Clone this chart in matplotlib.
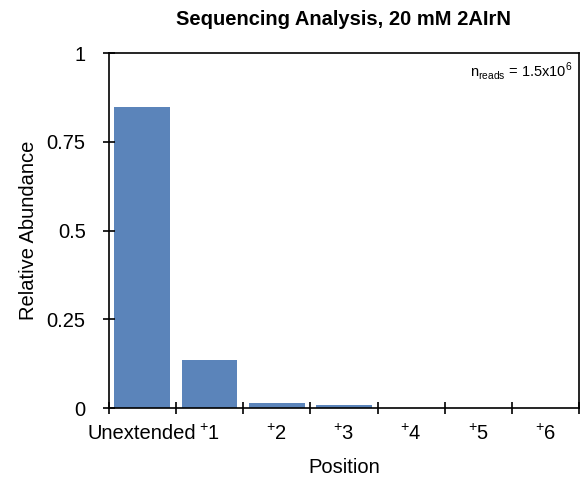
import matplotlib
matplotlib.use('Agg')
import matplotlib.pyplot as plt
import numpy as np

plt.rcParams['font.family'] = ['Liberation Sans', 'DejaVu Sans']
plt.rcParams['mathtext.fontset'] = 'custom'
plt.rcParams['mathtext.rm'] = 'Liberation Sans'

positions = ["Unextended", "$^{+}$1", "$^{+}$2", "$^{+}$3", "$^{+}$4", "$^{+}$5", "$^{+}$6"]
abundance = [0.847, 0.136, 0.014, 0.008, 0.0, 0.0, 0.0]
y_ticks = [0, 0.25, 0.5, 0.75, 1]
y_tick_labels = ["0", "0.25", "0.5", "0.75", "1"]

fs = 14.5

fig = plt.figure(figsize=(5.84, 4.82), dpi=100)
ax = fig.add_axes([0.186, 0.153, 0.806, 0.737])

x = np.arange(len(positions))
ax.bar(x, abundance, width=0.83, color='#5b84ba')

ax.set_xlim(-0.5, len(positions) - 0.5)
ax.set_ylim(0, 1)
ax.set_yticks(y_ticks)
ax.set_yticklabels(y_tick_labels, fontsize=fs)

# ticks at the category boundaries, labels centred on the bars
ax.set_xticks(np.arange(-0.5, len(positions)), minor=False)
ax.set_xticklabels([])
ax.set_xticks(x, minor=True)
ax.set_xticklabels(positions, minor=True, fontsize=fs)
ax.tick_params(axis='x', which='minor', length=0, pad=11)
ax.tick_params(axis='x', which='major', direction='inout', length=9, width=1.2)
ax.tick_params(axis='y', direction='inout', length=9, width=1.2, pad=12)

for s in ax.spines.values():
    s.set_linewidth(1.2)

ax.set_xlabel("Position", fontsize=fs, labelpad=10)
ax.set_ylabel("Relative Abundance", fontsize=fs, labelpad=6)
ax.set_title("Sequencing Analysis, 20 mM 2AIrN", fontsize=fs, fontweight='bold', pad=20)

ax.text(0.985, 0.95, "n$_{\\mathregular{reads}}$ = 1.5x10$^{6}$", transform=ax.transAxes,
        ha='right', va='center', fontsize=10.5)

fig.savefig("out.png", dpi=100)
